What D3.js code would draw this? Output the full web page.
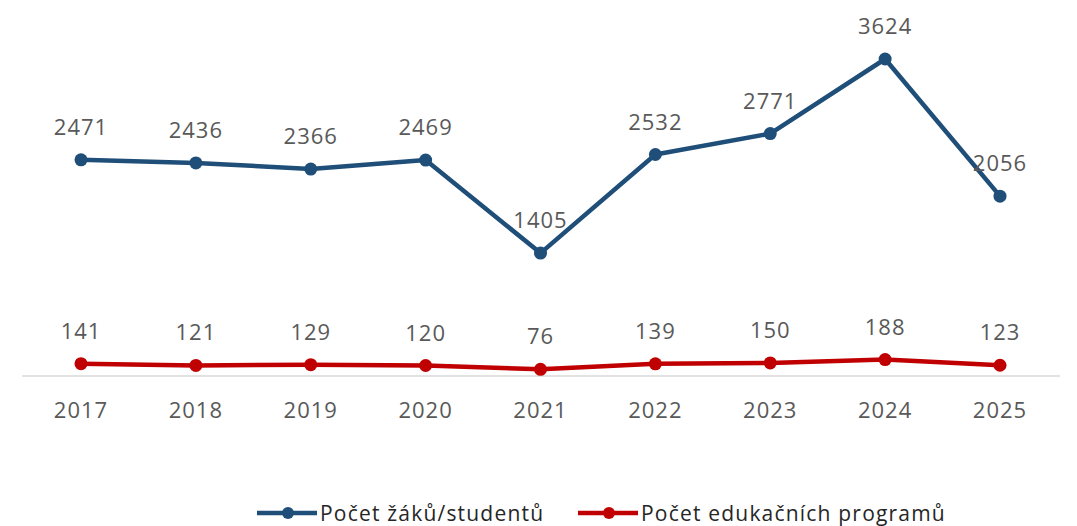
<!DOCTYPE html>
<html>
<head>
<meta charset="utf-8">
<script src="https://cdn.jsdelivr.net/npm/d3@7"></script>
<style>
  body { margin: 0; background: #fff; }
  text { font-family: "Open Sans", "Liberation Sans", sans-serif; fill: #595959; }
</style>
</head>
<body>
<svg id="chart"></svg>
<script>
const years = ["2017", "2018", "2019", "2020", "2021", "2022", "2023", "2024", "2025"];
const students = [2471, 2436, 2366, 2469, 1405, 2532, 2771, 3624, 2056];
const programs = [141, 121, 129, 120, 76, 139, 150, 188, 123];
const seriesNames = ["Počet žáků/studentů", "Počet edukačních programů"];
const colors = ["#1f4e79", "#c00000"];

const chartSize = { width: 1077, height: 526 };

const svg = d3.select("#chart")
  .attr("width", chartSize.width)
  .attr("height", chartSize.height);

const x = d3.scalePoint()
  .domain(years)
  .range([81, 1000]);

const y = d3.scaleLinear()
  .domain([0, 3624])
  .range([376, 59]);

// baseline
svg.append("line")
  .attr("x1", 22).attr("x2", 1060)
  .attr("y1", y(0)).attr("y2", y(0))
  .attr("stroke", "#d9d9d9")
  .attr("stroke-width", 1.5);

// year labels
svg.append("g")
  .selectAll("text")
  .data(years)
  .join("text")
  .attr("x", d => x(d))
  .attr("y", 418)
  .attr("text-anchor", "middle")
  .attr("font-size", 22)
  .attr("letter-spacing", 1)
  .text(d => d);

const series = [students, programs];

series.forEach((vals, si) => {
  const pts = vals.map((v, i) => ({ year: years[i], value: v }));
  const line = d3.line()
    .x(d => x(d.year))
    .y(d => y(d.value));

  const g = svg.append("g").attr("class", "series-" + si);

  g.append("path")
    .attr("d", line(pts))
    .attr("fill", "none")
    .attr("stroke", colors[si])
    .attr("stroke-width", 4.5)
    .attr("stroke-linejoin", "round");

  g.selectAll("circle")
    .data(pts)
    .join("circle")
    .attr("cx", d => x(d.year))
    .attr("cy", d => y(d.value))
    .attr("r", 6.5)
    .attr("fill", colors[si]);

  g.selectAll("text")
    .data(pts)
    .join("text")
    .attr("x", d => x(d.year))
    .attr("y", d => y(d.value) - 25)
    .attr("text-anchor", "middle")
    .attr("font-size", 22)
    .attr("letter-spacing", 1)
    .text(d => d.value);
});

// legend
const legend = svg.append("g").attr("transform", "translate(0,513)");
const legendX = [257, 578];
seriesNames.forEach((name, i) => {
  const lg = legend.append("g").attr("transform", `translate(${legendX[i]},0)`);
  lg.append("line")
    .attr("x1", 0).attr("x2", 60)
    .attr("stroke", colors[i])
    .attr("stroke-width", 4.5);
  lg.append("circle")
    .attr("cx", 31).attr("r", 6)
    .attr("fill", colors[i]);
  lg.append("text")
    .attr("x", 63)
    .attr("y", 7.5)
    .attr("font-size", 21)
    .attr("letter-spacing", 1.2)
    .style("fill", "#262626")
    .text(name);
});
</script>
</body>
</html>
